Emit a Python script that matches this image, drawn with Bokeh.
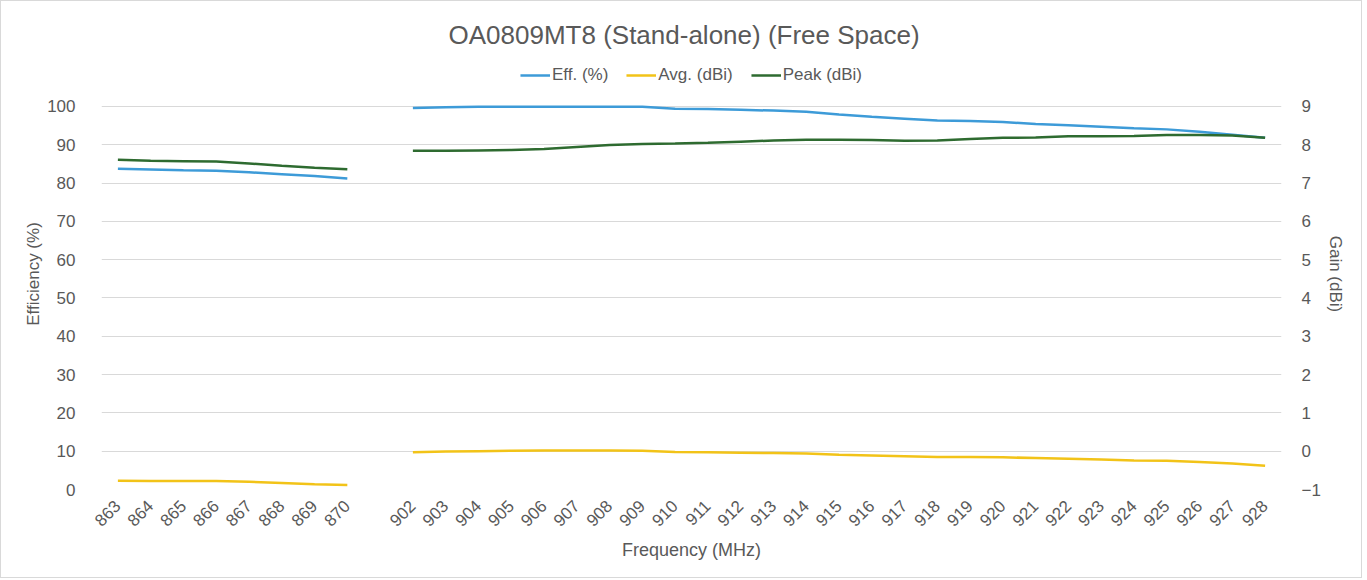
import math
from bokeh.plotting import figure
from bokeh.models import (FactorRange, Range1d, LinearAxis, FixedTicker, Legend,
                          LegendItem, ColumnDataSource)
from bokeh.embed import file_html
from bokeh.resources import INLINE

# ---------------- data ----------------
freq_low = [863, 864, 865, 866, 867, 868, 869, 870]
freq_high = [902, 903, 904, 905, 906, 907, 908, 909, 910, 911, 912, 913, 914, 915,
             916, 917, 918, 919, 920, 921, 922, 923, 924, 925, 926, 927, 928]

eff_low = [83.7, 83.5, 83.3, 83.2, 82.8, 82.3, 81.8, 81.2]
eff_high = [99.6, 99.8, 99.9, 99.9, 99.9, 99.9, 99.9, 99.9, 99.4, 99.3, 99.1, 98.9,
            98.6, 97.9, 97.3, 96.8, 96.3, 96.2, 95.9, 95.4, 95.1, 94.7, 94.3, 94.0,
            93.4, 92.6, 91.8]

avg_low = [-0.77, -0.78, -0.78, -0.78, -0.80, -0.83, -0.86, -0.88]
avg_high = [-0.03, -0.01, 0.00, 0.01, 0.02, 0.02, 0.02, 0.01, -0.02, -0.03, -0.04,
            -0.05, -0.06, -0.09, -0.11, -0.13, -0.15, -0.15, -0.16, -0.18, -0.20,
            -0.22, -0.24, -0.25, -0.28, -0.32, -0.38]

peak_low = [7.61, 7.58, 7.57, 7.56, 7.51, 7.45, 7.40, 7.36]
peak_high = [7.84, 7.84, 7.85, 7.86, 7.89, 7.94, 7.99, 8.02, 8.03, 8.05, 8.08, 8.11,
             8.13, 8.13, 8.12, 8.10, 8.11, 8.15, 8.18, 8.19, 8.22, 8.22, 8.23, 8.25,
             8.25, 8.24, 8.18]

eff_ticks = [0, 10, 20, 30, 40, 50, 60, 70, 80, 90, 100]
gain_ticks = [-1, 0, 1, 2, 3, 4, 5, 6, 7, 8, 9]

title_text = "OA0809MT8 (Stand-alone) (Free Space)"
series_names = ["Eff. (%)", "Avg. (dBi)", "Peak (dBi)"]
colors = ["#3D9BD8", "#F2C318", "#2E6B30"]

# ---------------- build ----------------
GAP = " "
factors = [str(f) for f in freq_low] + [GAP] + [str(f) for f in freq_high]
nan = float("nan")
src = ColumnDataSource(dict(
    x=factors,
    eff=eff_low + [nan] + eff_high,
    avg=avg_low + [nan] + avg_high,
    peak=peak_low + [nan] + peak_high,
))

TEXT = "#595959"
FONT = "Liberation Sans"

# plot area extends above the 100 % line to hold the legend (as in the reference)
EFF_TOP = 112.5
GAIN_LO, GAIN_HI = -1, -1 + EFF_TOP / 10.0

p = figure(width=1362, height=578, output_backend="svg", toolbar_location=None,
           x_range=FactorRange(factors=factors, range_padding=0),
           y_range=Range1d(0, EFF_TOP),
           min_border_left=100, min_border_right=82, min_border_top=57,
           min_border_bottom=90)
p.extra_y_ranges = {"gain": Range1d(GAIN_LO, GAIN_HI)}
p.styles = {"border": "1px solid #d9d9d9"}
p.outline_line_color = None
p.background_fill_color = "white"
p.border_fill_color = "white"

p.title.text = title_text
p.title.align = "left"
p.title.offset = 347
p.title.text_font = FONT
p.title.text_font_size = "26px"
p.title.text_font_style = "normal"
p.title.text_color = TEXT
p.title.standoff = 18

r_eff = p.line("x", "eff", source=src, line_color=colors[0], line_width=2.5)
r_avg = p.line("x", "avg", source=src, line_color=colors[1], line_width=2.5,
               y_range_name="gain")
r_peak = p.line("x", "peak", source=src, line_color=colors[2], line_width=2.5,
                y_range_name="gain")

# axes
left = p.yaxis[0]
left.ticker = FixedTicker(ticks=eff_ticks)
left.axis_label = "Efficiency (%)"
right = LinearAxis(y_range_name="gain", ticker=FixedTicker(ticks=gain_ticks),
                   axis_label="Gain (dBi)")
p.add_layout(right, "right")
bottom = p.xaxis[0]
bottom.axis_label = "Frequency (MHz)"

for ax in [bottom, left, right]:
    ax.axis_line_color = None
    ax.major_tick_line_color = None
    ax.minor_tick_line_color = None
    ax.major_label_text_color = TEXT
    ax.major_label_text_font = FONT
    ax.major_label_text_font_size = "17px"
    ax.axis_label_text_color = TEXT
    ax.axis_label_text_font = FONT
    ax.axis_label_text_font_style = "normal"
    ax.axis_label_text_font_size = "17px"

left.major_label_standoff = 20
left.axis_label_standoff = 1
right.major_label_standoff = 14
right.axis_label_standoff = 2
bottom.major_label_orientation = math.pi / 4
bottom.major_label_standoff = 8
bottom.axis_label_standoff = 0
bottom.axis_label_text_font_size = "18px"

p.xgrid.grid_line_color = None
p.ygrid.grid_line_color = "#d9d9d9"
p.ygrid.grid_line_width = 1

legend = Legend(items=[LegendItem(label=series_names[0], renderers=[r_eff]),
                       LegendItem(label=series_names[1], renderers=[r_avg]),
                       LegendItem(label=series_names[2], renderers=[r_peak])],
                orientation="horizontal", location="top_center")
legend.label_text_font = FONT
legend.label_text_font_size = "17px"
legend.label_text_color = TEXT
legend.glyph_width = 30
legend.glyph_height = 16
legend.label_height = 16
legend.label_standoff = 2
legend.spacing = 18
legend.padding = 4
legend.margin = 7
legend.border_line_color = None
legend.background_fill_alpha = 0
p.add_layout(legend, "center")

open("out.html", "w").write(file_html(p, INLINE))
